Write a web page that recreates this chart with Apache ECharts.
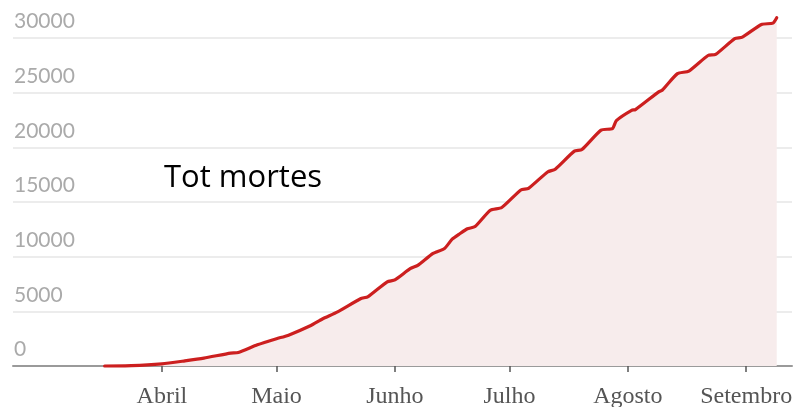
<!DOCTYPE html>
<html>
<head>
<meta charset="utf-8">
<script src="https://cdn.jsdelivr.net/npm/echarts@6/dist/echarts.min.js"></script>
<style>
  html, body { margin: 0; padding: 0; background: #fff; }
  #chart { width: 796px; height: 407px; }
</style>
</head>
<body>
<div id="chart"></div>
<script>
// dados (total acumulado de mortes)
var dates = [
  '2020-03-17', '2020-03-24', '2020-04-01', '2020-04-07', '2020-04-12', '2020-04-19',
  '2020-04-21', '2020-04-26', '2020-05-01', '2020-05-04', '2020-05-10', '2020-05-13',
  '2020-05-17', '2020-05-23', '2020-05-25', '2020-05-30', '2020-06-01', '2020-06-05',
  '2020-06-07', '2020-06-11', '2020-06-14', '2020-06-16', '2020-06-18', '2020-06-20',
  '2020-06-22', '2020-06-26', '2020-06-29', '2020-07-04', '2020-07-06', '2020-07-11',
  '2020-07-13', '2020-07-18', '2020-07-20', '2020-07-25', '2020-07-28', '2020-07-29',
  '2020-08-02', '2020-08-03', '2020-08-09', '2020-08-10', '2020-08-14', '2020-08-17',
  '2020-08-22', '2020-08-24', '2020-08-29', '2020-08-31', '2020-09-05', '2020-09-08',
  '2020-09-09'
];
var deaths = [
  0, 30, 200, 470, 720, 1180,
  1230, 1940, 2500, 2800, 3700, 4300,
  4950, 6150, 6350, 7700, 7870, 8900,
  9200, 10300, 10750, 11600, 12100, 12550,
  12750, 14250, 14500, 16100, 16250, 17750,
  18000, 19650, 19800, 21570, 21720, 22450,
  23390, 23450, 25050, 25220, 26740, 26980,
  28400, 28500, 29940, 30080, 31240, 31360,
  31850
];
var monthStarts = ['2020-04-01', '2020-05-01', '2020-06-01', '2020-07-01', '2020-08-01', '2020-09-01'];
var monthNames = ['Abril', 'Maio', 'Junho', 'Julho', 'Agosto', 'Setembro'];

function toTime(d) { return +echarts.time.parse(d); }

var chart = echarts.init(document.getElementById('chart'), null, { renderer: 'canvas' });

var monthTimes = monthStarts.map(toTime);
var seriesData = dates.map(function (d, i) { return [toTime(d), deaths[i]]; });

var option = {
  animation: false,
  grid: {
    left: 13,
    right: 4,
    top: 38,
    bottom: 41,
    outerBoundsMode: 'none'
  },
  xAxis: {
    type: 'value',
    min: toTime('2020-02-22'),
    max: toTime('2020-09-13'),
    axisLine: { lineStyle: { color: '#9a9a9a', width: 2 } },
    axisTick: {
      show: true,
      customValues: monthTimes,
      length: 6,
      lineStyle: { color: '#555', width: 1.5 }
    },
    axisLabel: {
      customValues: monthTimes,
      margin: 19,
      color: '#555',
      fontFamily: 'Liberation Serif',
      fontSize: 24,
      formatter: function (val) {
        var i = monthTimes.indexOf(val);
        return i >= 0 ? monthNames[i] : '';
      }
    },
    splitLine: { show: false }
  },
  yAxis: {
    type: 'value',
    min: 0,
    max: 30000,
    interval: 5000,
    axisLine: { show: false },
    axisTick: { show: false },
    axisLabel: {
      inside: true,
      margin: 1,
      color: '#aaaaaa',
      fontFamily: 'Lato',
      fontSize: 21,
      verticalAlign: 'bottom',
      padding: [0, 0, 6, 0],
      formatter: function (v) { return String(v); }
    },
    splitLine: { lineStyle: { color: '#ececec', width: 2 } }
  },
  graphic: [{
    type: 'text',
    left: 164,
    top: 163,
    style: {
      text: 'Tot mortes',
      fill: '#000',
      font: '31px "Open Sans"'
    }
  }],
  series: [{
    type: 'line',
    data: seriesData,
    showSymbol: false,
    smooth: 0.2,
    clip: false,
    lineStyle: { color: '#cc1f1f', width: 3.2, cap: 'round', join: 'round' },
    areaStyle: { color: '#f7ecec', opacity: 1 }
  }]
};

chart.setOption(option);
</script>
</body>
</html>
